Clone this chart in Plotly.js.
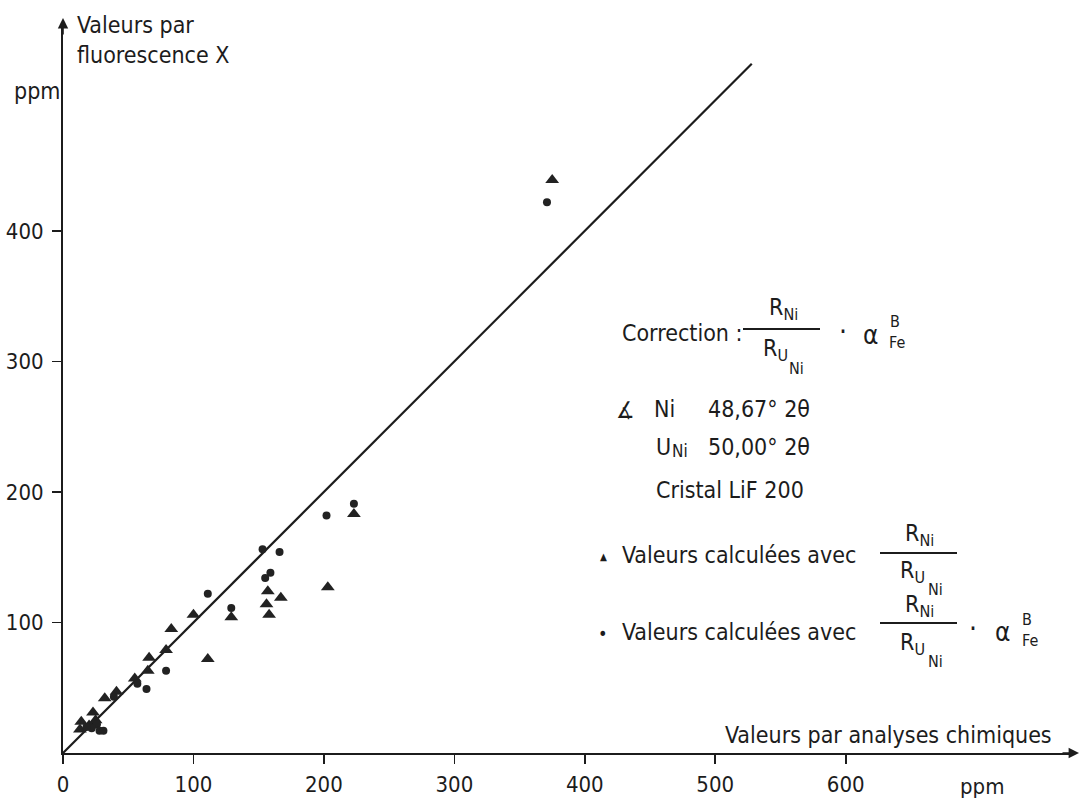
<!DOCTYPE html>
<html>
<head>
<meta charset="utf-8">
<script src="https://cdn.plot.ly/plotly-3.0.1.min.js"></script>
<style>html,body{margin:0;padding:0;background:#fff;}</style>
</head>
<body>
<div id="chart" style="width:1081px;height:798px;"></div>
<script>
// Valeurs calculées avec R_Ni / R_UNi (triangles)
const triX = [375, 223, 203, 157, 167, 156, 158, 129, 100, 111, 83, 79, 66, 65, 55, 41, 32, 23, 14, 13, 20, 25];
const triY = [439, 183, 127, 124, 119, 114, 106, 104, 106, 72, 95, 79, 73, 63, 57, 47, 42, 31, 24, 18, 21, 25];
// Valeurs calculées avec R_Ni / R_UNi · alpha (dots)
const dotX = [371, 223, 202, 153, 166, 159, 155, 111, 129, 79, 64, 57, 39, 26, 28, 31, 22, 18];
const dotY = [422, 191, 182, 156, 154, 138, 134, 122, 111, 63, 49, 53, 43, 22, 17, 17, 19, 20];
// 1:1 line
const lineX = [0, 528];
const lineY = [0, 528];
const xTicks = [0, 100, 200, 300, 400, 500, 600];
const yTicks = [100, 200, 300, 400];

const FONT = "'DejaVu Sans Condensed', 'Liberation Sans Narrow', sans-serif";
const INK = '#1c1c1c';
const L = 63, T = 22, W = 1011, H = 731, B = T + H;
const px = x => (x - L) / W;
const py = y => (B - y) / H;
const FS = 23, SS = 16;

function ann(text, x, y, size, anchor) {
  return {
    text: text, xref: 'paper', yref: 'paper', x: px(x), y: py(y),
    xanchor: anchor || 'left', yanchor: 'middle', showarrow: false,
    font: {family: FONT, size: size || FS, color: INK}
  };
}
function bar(x0, x1, y) {
  return {type: 'line', xref: 'paper', yref: 'paper', x0: px(x0), x1: px(x1), y0: py(y), y1: py(y),
          line: {color: INK, width: 2}};
}

const annotations = [
  ann('Valeurs par', 75, 25, FS),
  ann('fluorescence X', 75, 55, FS),
  ann('ppm', 12, 91, FS),
  ann('Valeurs par analyses chimiques', 1054, 735, FS, 'right'),
  ann('ppm', 982, 786, 22, 'center'),
  // Correction formula
  ann('Correction :', 620, 333, FS),
  ann('R<sub>Ni</sub>', 783, 309, FS, 'center'),
  ann('R<sub>U</sub>', 775, 350, FS, 'center'),
  ann('Ni', 796, 368, SS, 'center'),
  ann('·', 843, 331, 28, 'center'),
  ann('α', 870, 335, 26, 'center'),
  ann('B', 895, 321, SS, 'center'),
  ann('Fe', 897, 342, SS, 'center'),
  // angles
  ann('∡', 625, 410, FS, 'center'),
  ann('Ni', 652, 409, FS),
  ann('48,67° 2θ', 706, 409, FS),
  ann('U', 654, 447, FS),
  ann('Ni', 670, 451, 17),
  ann('50,00° 2θ', 706, 447, FS),
  ann('Cristal LiF 200', 654, 490, FS),
  // legend
  ann('▲', 603, 556, 10, 'center'),
  ann('Valeurs calculées avec', 620, 555, FS),
  ann('R<sub>Ni</sub>', 919, 535, FS, 'center'),
  ann('R<sub>U</sub>', 912, 572, FS, 'center'),
  ann('Ni', 935, 589, SS, 'center'),
  ann('•', 603, 633, 18, 'center'),
  ann('Valeurs calculées avec', 620, 632, FS),
  ann('R<sub>Ni</sub>', 919, 606, FS, 'center'),
  ann('R<sub>U</sub>', 912, 644, FS, 'center'),
  ann('Ni', 935, 661, SS, 'center'),
  ann('·', 973, 628, 28, 'center'),
  ann('α', 1002, 632, 26, 'center'),
  ann('B', 1027, 619, SS, 'center'),
  ann('Fe', 1030, 640, SS, 'center'),
  // axis arrowheads
  {text: '', xref: 'paper', yref: 'paper', x: px(1079), y: py(B), ax: -18, ay: 0,
   showarrow: true, arrowhead: 2, arrowsize: 1.3, arrowwidth: 1.6, arrowcolor: INK, standoff: 0},
  {text: '', xref: 'paper', yref: 'paper', x: px(L), y: py(18), ax: 0, ay: 18,
   showarrow: true, arrowhead: 2, arrowsize: 1.3, arrowwidth: 1.6, arrowcolor: INK, standoff: 0}
];

const shapes = [
  bar(743, 820, 329),
  bar(880, 957, 553),
  bar(880, 957, 623)
];

const traces = [
  {x: lineX, y: lineY, mode: 'lines', line: {color: INK, width: 2.2}, hoverinfo: 'skip'},
  {x: triX, y: triY, mode: 'markers', marker: {symbol: 'triangle-up', size: 12, color: '#222'}},
  {x: dotX, y: dotY, mode: 'markers', marker: {symbol: 'circle', size: 8, color: '#222'}}
];

const axisCommon = {
  showgrid: false, zeroline: false, showline: true, linecolor: INK, linewidth: 2,
  ticks: 'outside', ticklen: 9, tickwidth: 1.6, tickcolor: INK,
  tickfont: {family: FONT, size: 22, color: INK}, fixedrange: true
};

const layout = {
  width: 1081, height: 798,
  margin: {l: L, r: 1081 - L - W, t: T, b: 798 - B},
  paper_bgcolor: '#ffffff', plot_bgcolor: '#ffffff',
  showlegend: false,
  xaxis: Object.assign({}, axisCommon, {range: [0, 775], tickmode: 'array', tickvals: xTicks,
    ticktext: xTicks.map(String), ticklabelstandoff: 2}),
  yaxis: Object.assign({}, axisCommon, {range: [0, 560], tickmode: 'array', tickvals: yTicks,
    ticktext: yTicks.map(String), ticklabelstandoff: 4}),
  annotations: annotations,
  shapes: shapes
};

Plotly.newPlot('chart', traces, layout, {displayModeBar: false, staticPlot: true});
</script>
</body>
</html>
